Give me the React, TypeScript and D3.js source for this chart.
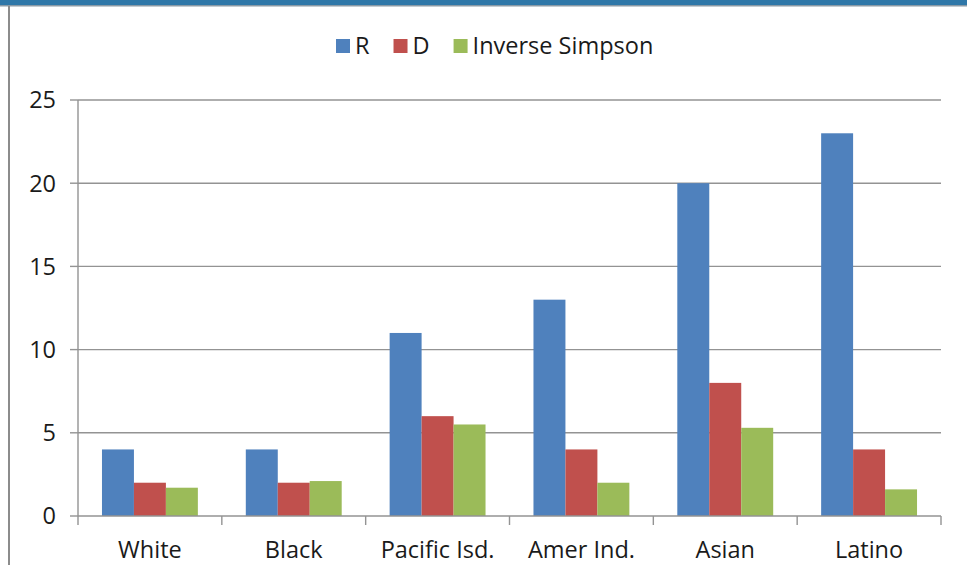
import React, { useEffect, useRef } from "react";
import * as d3 from "d3";

const categories = ["White", "Black", "Pacific Isd.", "Amer Ind.", "Asian", "Latino"];
const seriesNames = ["R", "D", "Inverse Simpson"];
const rValues = [4, 4, 11, 13, 20, 23];
const dValues = [2, 2, 6, 4, 8, 4];
const invSimpsonValues = [1.7, 2.1, 5.5, 2.0, 5.3, 1.6];
const yTicks = [0, 5, 10, 15, 20, 25];
const colors = ["#4F81BD", "#C0504D", "#9BBB59"];

const W = 967;
const H = 565;
const FONT = "'Open Sans', sans-serif";
const FS = 23.5;

export default function App() {
  const ref = useRef<SVGSVGElement | null>(null);

  useEffect(() => {
    const svg = d3.select(ref.current);
    svg.selectAll("*").remove();

    // frame decorations
    svg.append("rect").attr("x", 0).attr("y", 0).attr("width", W).attr("height", H).attr("fill", "#ffffff");
    svg.append("rect").attr("x", 0).attr("y", 0).attr("width", W).attr("height", 5).attr("fill", "#2f77a8");
    svg.append("rect").attr("x", 0).attr("y", 5).attr("width", W).attr("height", 1.5).attr("fill", "#8a9aa6");
    svg.append("rect").attr("x", 8).attr("y", 6).attr("width", 2).attr("height", H - 6).attr("fill", "#8c8c8c");

    const left = 78, right = 941, top = 100, bottom = 516;
    const x0 = d3.scaleBand<string>().domain(categories).range([left, right]).paddingInner(0).paddingOuter(0);
    const band = x0.bandwidth();
    const groupW = band * (3 / 4.5);
    const x1 = d3.scaleBand<string>().domain(seriesNames).range([0, groupW]).padding(0);
    const y = d3.scaleLinear().domain([0, 25]).range([bottom, top]);

    const g = svg.append("g");

    // gridlines
    g.selectAll("line.grid").data(yTicks.filter((t) => t > 0)).enter().append("line")
      .attr("x1", left).attr("x2", right)
      .attr("y1", (d) => y(d)).attr("y2", (d) => y(d))
      .attr("stroke", "#939393").attr("stroke-width", 1.4);

    // y axis
    g.append("line").attr("x1", left).attr("x2", left).attr("y1", top).attr("y2", bottom)
      .attr("stroke", "#939393").attr("stroke-width", 1.4);
    g.selectAll("line.ytick").data(yTicks).enter().append("line")
      .attr("x1", left - 8).attr("x2", left)
      .attr("y1", (d) => y(d)).attr("y2", (d) => y(d))
      .attr("stroke", "#939393").attr("stroke-width", 1.4);
    g.selectAll("text.ylab").data(yTicks).enter().append("text")
      .attr("x", left - 22).attr("y", (d) => y(d)).attr("dy", "0.36em")
      .attr("text-anchor", "end").attr("font-family", FONT).attr("font-size", FS).attr("fill", "#1a1a1a")
      .text((d) => String(d));

    // bars
    const seriesData = [rValues, dValues, invSimpsonValues];
    seriesNames.forEach((name, si) => {
      g.selectAll(`rect.s${si}`).data(seriesData[si]).enter().append("rect")
        .attr("x", (_, i) => (x0(categories[i]) as number) + (band - groupW) / 2 + (x1(name) as number))
        .attr("y", (d) => y(d))
        .attr("width", x1.bandwidth())
        .attr("height", (d) => bottom - y(d))
        .attr("fill", colors[si]);
    });

    // x axis
    g.append("line").attr("x1", left).attr("x2", right).attr("y1", bottom).attr("y2", bottom)
      .attr("stroke", "#939393").attr("stroke-width", 1.4);
    const tickXs = categories.map((c) => x0(c) as number).concat([right]);
    g.selectAll("line.xtick").data(tickXs).enter().append("line")
      .attr("x1", (d) => d).attr("x2", (d) => d).attr("y1", bottom).attr("y2", bottom + 9)
      .attr("stroke", "#939393").attr("stroke-width", 1.4);
    g.selectAll("text.xlab").data(categories).enter().append("text")
      .attr("x", (d) => (x0(d) as number) + band / 2).attr("y", 558)
      .attr("text-anchor", "middle").attr("font-family", FONT).attr("font-size", FS).attr("fill", "#1a1a1a")
      .text((d) => d);

    // legend
    const legend = svg.append("g");
    let lx = 336;
    seriesNames.forEach((name, si) => {
      legend.append("rect").attr("x", lx).attr("y", 39).attr("width", 14).attr("height", 14).attr("fill", colors[si]);
      const t = legend.append("text").attr("x", lx + 19).attr("y", 54)
        .attr("font-family", FONT).attr("font-size", FS).attr("fill", "#1a1a1a").text(name);
      const w = (t.node() as SVGTextElement).getComputedTextLength();
      lx = lx + 19 + w + 24;
    });
  }, []);

  return (
    <svg ref={ref} width={W} height={H} style={{ position: "absolute", left: 0, top: 0, display: "block" }} />
  );
}
